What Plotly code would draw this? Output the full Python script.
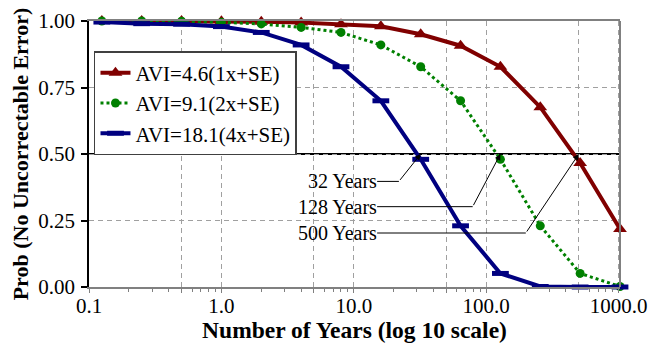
import math
import plotly.graph_objects as go

years = [0.125, 0.25, 0.5, 1, 2, 4, 8, 16, 32, 64, 128, 256, 512, 1024]
avi_4_6 = [1.0, 1.0, 1.0, 0.999, 0.997, 0.994, 0.988, 0.98, 0.95, 0.907, 0.828, 0.676, 0.466, 0.218]
avi_9_1 = [1.0, 1.0, 0.999, 0.995, 0.989, 0.976, 0.957, 0.91, 0.828, 0.70, 0.48, 0.23, 0.051, 0.002]
avi_18_1 = [0.996, 0.99, 0.988, 0.979, 0.957, 0.91, 0.828, 0.70, 0.48, 0.23, 0.051, 0.002, 0.0, 0.0]

series_names = ["AVI=4.6(1x+SE)", "AVI=9.1(2x+SE)", "AVI=18.1(4x+SE)"]

x_tickvals = [0.1, 0.5, 1, 5, 10, 50, 100, 500, 1000]
x_ticktext = ["0.1", "", "1.0", "", "10.0", "", "100.0", "", "1000.0"]
decades = [0.1, 1, 10, 100]
minor_digits = [2, 3, 4, 6, 7, 8, 9]
y_tickvals = [0, 0.25, 0.5, 0.75, 1.0]

# annotation callouts: label, target year, kink (year, prob)
callout_labels = ["32 Years", "128 Years", "500 Years"]
callout_targets = [32, 128, 500]
callout_kinks = [(21.9, 0.397), (79, 0.302), (199, 0.203)]
label_right_year = 15.0

FONT = "'Liberation Serif', 'Times New Roman', Times, serif"
GRID = "#a0a0a0"

fig = go.Figure()
fig.add_trace(go.Scatter(
    x=years, y=avi_4_6, name=series_names[0], mode="lines+markers",
    line=dict(color="#800000", width=4),
    marker=dict(symbol="triangle-up", size=12, color="#800000"),
    cliponaxis=False))
fig.add_trace(go.Scatter(
    x=years, y=avi_9_1, name=series_names[1], mode="lines+markers",
    line=dict(color="#008000", width=3, dash="dot"),
    marker=dict(symbol="circle", size=9, color="#008000"),
    cliponaxis=False))
fig.add_trace(go.Scatter(
    x=years, y=avi_18_1, name=series_names[2], mode="lines+markers",
    line=dict(color="#000080", width=4),
    marker=dict(symbol="line-ew", size=12, color="#000080",
                line=dict(color="#000080", width=5)),
    cliponaxis=False))

minor_vals = [d * m for d in decades for m in minor_digits]

fig.update_xaxes(
    type="log", range=[-1, math.log10(1024)],
    tickmode="array", tickvals=x_tickvals, ticktext=x_ticktext,
    ticks="outside", ticklen=4, tickcolor="#808080", tickwidth=1,
    ticklabelstandoff=-5,
    showgrid=True, gridcolor=GRID, griddash="5px,4px", gridwidth=1,
    showline=True, linecolor="#808080", linewidth=2, mirror=True,
    minor=dict(tickmode="array", tickvals=minor_vals, ticks="outside",
               ticklen=3, tickcolor="#808080", showgrid=False),
    tickfont=dict(family=FONT, size=21, color="black"),
    title=dict(text="<b>Number of Years (log 10 scale)</b>",
               font=dict(family=FONT, size=23.5, color="black"), standoff=2),
    zeroline=False, automargin=False,
)
fig.update_yaxes(
    range=[0, 1], tickmode="array", tickvals=y_tickvals,
    ticktext=["%.2f" % v for v in y_tickvals],
    ticks="outside", ticklen=6, tickcolor="black", tickwidth=1.5,
    ticklabelstandoff=2,
    showgrid=True, gridcolor=GRID, griddash="5px,4px", gridwidth=1,
    showline=True, linecolor="black", linewidth=1.5,
    tickfont=dict(family=FONT, size=21, color="black"),
    title=dict(text="<b>Prob (No Uncorrectable Error)</b>",
               font=dict(family=FONT, size=22, color="black"), standoff=4),
    zeroline=False, automargin=False,
)

shapes = [
    dict(type="line", xref="paper", yref="y", x0=0, x1=1, y0=0.5, y1=0.5,
         line=dict(color="black", width=2), layer="below"),
    dict(type="line", xref="paper", yref="paper", x0=1, x1=1, y0=0, y1=1,
         line=dict(color="#808080", width=2), layer="above"),
]
annotations = []
for lab, tgt, (kx, ky) in zip(callout_labels, callout_targets, callout_kinks):
    shapes.append(dict(type="line", xref="x", yref="y", x0=label_right_year, x1=kx,
                       y0=ky, y1=ky, line=dict(color="black", width=1)))
    annotations.append(dict(x=math.log10(tgt), y=0.5, xref="x", yref="y",
                            ax=math.log10(kx), ay=ky, axref="x", ayref="y",
                            text="", showarrow=True, arrowhead=2, arrowsize=1.2,
                            arrowwidth=1, arrowcolor="black"))
    annotations.append(dict(x=math.log10(label_right_year), y=ky, xref="x", yref="y",
                            text=lab, showarrow=False, xanchor="right", yanchor="middle",
                            xshift=2,
                            font=dict(family=FONT, size=20, color="black")))

fig.update_layout(
    width=671, height=343,
    margin=dict(l=89, r=51, t=21, b=56, autoexpand=False),
    paper_bgcolor="white", plot_bgcolor="white",
    font=dict(family=FONT, size=20, color="black"),
    shapes=shapes, annotations=annotations,
    legend=dict(x=0.0094, y=0.887, xanchor="left", yanchor="top",
                bgcolor="white", bordercolor="#404040", borderwidth=1.5,
                font=dict(family=FONT, size=21, color="black"),
                itemwidth=30, tracegroupgap=0),
    showlegend=True,
)

fig.write_html("out.html")
